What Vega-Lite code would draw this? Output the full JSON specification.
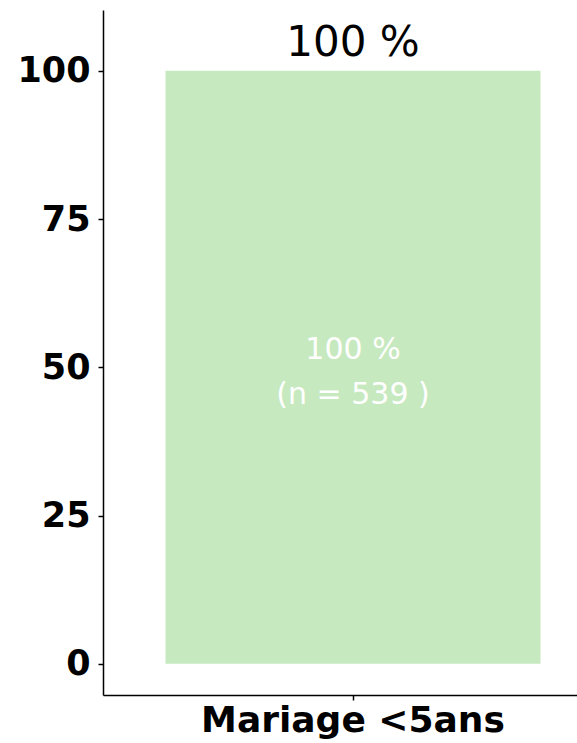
{
  "$schema": "https://vega.github.io/schema/vega-lite/v6.json",
  "width": 500,
  "height": 685,
  "autosize": {"type": "none"},
  "padding": {"left": 103, "top": 10, "right": 0, "bottom": 48},
  "background": "white",
  "config": {"view": {"stroke": null}, "font": "DejaVu Sans"},
  "data": {"values": [
    {"cat": "Mariage <5ans", "pct": 100, "n": 539, "top": "100 %", "inner": ["100 % ", " (n = 539 )"]}
  ]},
  "encoding": {
    "x": {"field": "cat", "type": "nominal", "scale": {"paddingInner": 0.25, "paddingOuter": 0.125}, "axis": {"title": null, "labelAngle": 0, "labelLimit": 0, "labelFont": "DejaVu Sans", "labelFontWeight": "bold", "labelFontSize": 36, "labelColor": "black", "domainColor": "black", "domainWidth": 1.5, "tickColor": "black", "tickWidth": 1.5, "tickSize": 5, "labelPadding": 3}}
  },
  "layer": [
    {"mark": {"type": "bar", "color": "#C7E9C0"},
     "encoding": {"y": {"field": "pct", "type": "quantitative", "scale": {"domain": [-5.25, 110.25], "nice": false, "zero": false}, "axis": {"title": null, "values": [0, 25, 50, 75, 100], "grid": false, "labelFont": "DejaVu Sans", "labelFontWeight": "bold", "labelFontSize": 35, "labelColor": "black", "domainColor": "black", "domainWidth": 1.5, "tickColor": "black", "tickWidth": 1.5, "tickSize": 5, "labelPadding": 8}}}},
    {"mark": {"type": "text", "fontSize": 42, "color": "black", "baseline": "alphabetic", "dy": -15, "font": "DejaVu Sans"},
     "encoding": {"y": {"field": "pct", "type": "quantitative"}, "text": {"field": "top"}}},
    {"mark": {"type": "text", "fontSize": 30, "color": "white", "baseline": "middle", "lineHeight": 45, "dy": -17, "font": "DejaVu Sans"},
     "encoding": {"y": {"datum": 50, "type": "quantitative"}, "text": {"field": "inner"}}}
  ]
}
